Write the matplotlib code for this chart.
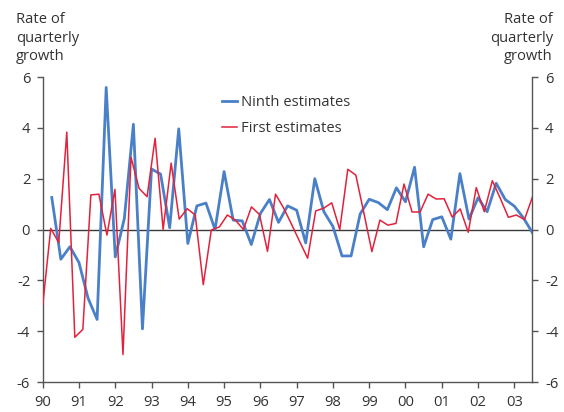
import matplotlib.pyplot as plt
import numpy as np

# quarterly growth, ninth estimates (from 1990 Q2)
ninth = [
    1.26, -1.17, -0.68, -1.30, -2.70, -3.54, 5.59, -1.08, 0.43, 4.14,
    -3.91, 2.38, 2.18, 0.07, 3.96, -0.55, 0.93, 1.04, 0.00, 2.28,
    0.37, 0.34, -0.59, 0.63, 1.18, 0.28, 0.93, 0.76, -0.53, 2.00,
    0.70, 0.12, -1.04, -1.04, 0.61, 1.19, 1.06, 0.78, 1.64, 1.09,
    2.45, -0.68, 0.39, 0.50, -0.38, 2.20, 0.41, 1.25, 0.70, 1.82,
    1.18, 0.92, 0.46, -0.13,
]
# first estimates
first = [
    -2.99, 0.04, -0.51, 3.83, -4.24, -3.93, 1.36, 1.39, -0.22, 1.58,
    -4.92, 2.84, 1.62, 1.29, 3.59, 0.00, 2.61, 0.41, 0.82, 0.57,
    -2.17, -0.02, 0.10, 0.57, 0.37, 0.00, 0.89, 0.59, -0.86, 1.39,
    0.85, 0.20, -0.47, -1.13, 0.73, 0.84, 1.05, 0.00, 2.37, 2.14,
    0.65, -0.87, 0.37, 0.17, 0.24, 1.79, 0.69, 0.69, 1.39, 1.20,
    1.21, 0.49, 0.81, -0.11, 1.65, 0.70, 1.92, 1.22, 0.48, 0.57,
    0.39, 1.28,
]
years = list(range(1990, 2004))
year_labels = ["90", "91", "92", "93", "94", "95", "96", "97", "98", "99",
               "00", "01", "02", "03"]
yticks = [-6, -4, -2, 0, 2, 4, 6]

x_ninth = 1990.25 + 0.25 * np.arange(len(ninth))
x_first = np.linspace(1990, 2003.5, len(first))

plt.rcParams["font.family"] = ["Open Sans", "DejaVu Sans"]
fs = 10.6

blue = "#4a80c8"
red = "#e2223c"
axis_col = "#555555"
text_col = "#333333"

fig = plt.figure(figsize=(5.64, 4.12), dpi=100)
ax = fig.add_axes([0.0757, 0.0728, 0.8684, 0.7403])

ax.axhline(0, color="#3a3a3a", lw=1.0, zorder=1)
ax.plot(x_ninth, ninth, color=blue, lw=2.0, label="Ninth estimates", zorder=2)
ax.plot(x_first, first, color=red, lw=1.1, label="First estimates", zorder=3)

ax.set_xlim(1990, 2003.5)
ax.set_ylim(-6, 6)
ax.set_xticks(years)
ax.set_xticklabels(year_labels)
ax.set_yticks(yticks)
ax.set_yticklabels([str(v) for v in yticks])

ax.spines["top"].set_visible(False)
for side in ("left", "right", "bottom"):
    ax.spines[side].set_color(axis_col)
    ax.spines[side].set_linewidth(1.0)

ax.tick_params(axis="both", direction="out", length=4, width=1,
               color=axis_col, labelcolor=text_col, labelsize=fs)
ax.tick_params(axis="x", pad=5)
ax.tick_params(axis="y", pad=5, right=True, labelright=True)

ax.legend(loc="upper left", bbox_to_anchor=(0.366, 0.94), frameon=False,
          borderpad=0, borderaxespad=0,
          handlelength=1.0, handletextpad=0.3, labelspacing=0.75,
          fontsize=fs, labelcolor=text_col)

fig.text(16 / 564, 1 - 12 / 412, "Rate of\nquarterly\ngrowth", ha="left",
         va="top", color=text_col, fontsize=fs, linespacing=1.33)
fig.text(553 / 564, 1 - 12 / 412, "Rate of\nquarterly\ngrowth", ha="right",
         va="top", color=text_col, fontsize=fs, linespacing=1.33,
         multialignment="right")

fig.savefig("out.png", dpi=100)
